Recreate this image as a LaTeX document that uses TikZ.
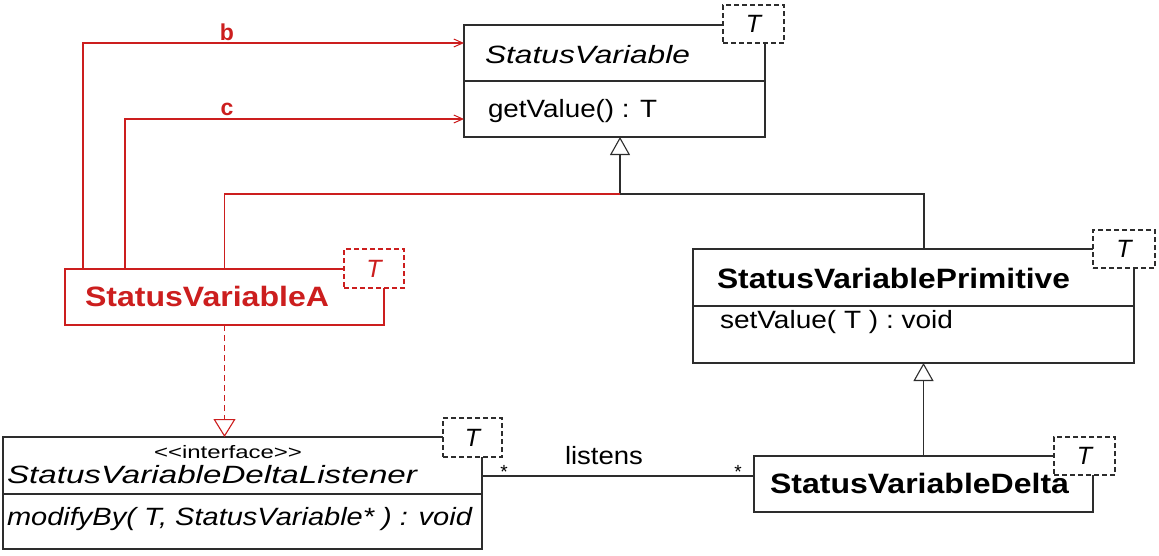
\documentclass[tikz,border=0pt]{standalone}
\usepackage{fontspec}
\setmainfont{Liberation Sans}
\usepackage{graphicx}
\usetikzlibrary{arrows.meta}
\definecolor{umlred}{RGB}{204,30,30}
\definecolor{umlgray}{RGB}{45,45,45}
\newcommand{\fitw}[2]{\resizebox{#1}{\height}{#2}}
\begin{document}
\begin{tikzpicture}[x=1pt,y=-1pt,
  classbox/.style={draw=umlgray, line width=1.3pt, fill=white, inner sep=0pt, outer sep=0pt, anchor=north west},
  redbox/.style={classbox, draw=umlred},
  tparam/.style={draw=umlgray, dash pattern=on 5pt off 3pt, line width=1.2pt, fill=white, inner sep=0pt, outer sep=0pt, anchor=north west},
  redtparam/.style={tparam, draw=umlred},
  lbl/.style={inner sep=0pt, outer sep=0pt, anchor=base west, text=black},
  regtext/.style={lbl, font=\fontsize{25}{30}\selectfont},
  ittext/.style={lbl, font=\fontsize{25}{30}\selectfont\itshape},
  bftext/.style={lbl, font=\fontsize{28}{33}\selectfont\bfseries},
  tlabel/.style={inner sep=0pt, font=\fontsize{25}{30}\selectfont\itshape, text=black},
  rolelbl/.style={lbl, anchor=base, text=umlred, font=\fontsize{23}{27}\selectfont\bfseries},
  line/.style={draw=umlgray, line width=1.3pt},
  redline/.style={draw=umlred, line width=1.3pt},
  gen/.style={line, -{Triangle[length=18pt,width=20pt,fill=white,line width=1.1pt]}},
  assoc/.style={redline, -{Straight Barb[length=9pt,width=8pt,line width=1pt]}},
  real/.style={redline, dash pattern=on 6pt off 4pt, -{Triangle[length=18pt,width=22pt,fill=white,line width=1.1pt,sep=0pt]}},
]
\useasboundingbox (0,0) rectangle (1159,555);

% ---------- class boxes ----------
\node[classbox, minimum width=301pt, minimum height=112pt] (sv) at (464,25) {};
\node[redbox, minimum width=319pt, minimum height=56pt] (sva) at (65,269) {};
\node[classbox, minimum width=441pt, minimum height=114pt] (svp) at (693,249) {};
\node[classbox, minimum width=339pt, minimum height=56pt] (svd) at (754,456) {};
\node[classbox, minimum width=479pt, minimum height=112pt] (svdl) at (3,437) {};

% dividers
\draw[line] ([yshift=-56pt]sv.north west) -- ([yshift=-56pt]sv.north east);
\draw[line] ([yshift=-57pt]svp.north west) -- ([yshift=-57pt]svp.north east);
\draw[line] ([yshift=-57pt]svdl.north west) -- ([yshift=-57pt]svdl.north east);

% ---------- texts ----------
\node[ittext] (svname) at (485,63) {\fitw{205pt}{StatusVariable}};
\node[regtext] (svop) at (488,117) {\fitw{169pt}{getValue() : T}};
\node[bftext, text=umlred] (svaname) at (85,306) {\fitw{244pt}{StatusVariableA}};
\node[bftext] (svpname) at (717,288) {\fitw{353pt}{StatusVariablePrimitive}};
\node[regtext] (svpop) at (720,328) {\fitw{233pt}{setValue( T ) : void}};
\node[bftext] (svdname) at (770,493) {\fitw{299pt}{StatusVariableDelta}};
\node[lbl, font=\fontsize{18}{22}\selectfont] (svdlst) at (154,458) {\fitw{148pt}{{<}{<}interface{>}{>}}};
\node[ittext] (svdlname) at (7,483) {\fitw{410pt}{StatusVariableDeltaListener}};
\node[ittext] (svdlop) at (7,525) {\fitw{465pt}{modifyBy( T, StatusVariable* ) : void}};

% ---------- connectors ----------
\coordinate (jn) at (620,194);
\draw[gen] ([xshift=10.5pt]svp.north) |- (jn) -- (jn |- sv.south);
\draw[redline] (sva.north) |- (jn);
\draw[gen] (svd.north) -- (svd.north |- svp.south);
\draw[assoc] ([xshift=18pt]sva.north west) |- ([yshift=-18pt]sv.north west);
\draw[assoc] ([xshift=60pt]sva.north west) |- ([yshift=-94pt]sv.north west);
\draw[real] (sva.south) -- (sva.south |- svdl.north);
\draw[line] ([yshift=-39pt]svdl.north east) -- ([yshift=-20pt]svd.north west);

\node[rolelbl] (lb) at (227,40) {b};
\node[rolelbl] (lc) at (227,115) {c};
\node[regtext] (listens) at (565,464) {\fitw{78pt}{listens}};
\node[lbl, anchor=base, font=\fontsize{19}{22}\selectfont] (m1) at (504,478) {*};
\node[lbl, anchor=base, font=\fontsize{19}{22}\selectfont] (m2) at (738,478) {*};

% ---------- template parameter boxes ----------
\node[tparam, minimum width=61pt, minimum height=38pt] (svT) at (723,5) {};
\node[tlabel] (svTt) at (svT.center) {T};
\node[redtparam, minimum width=60pt, minimum height=39pt] (svaT) at (344,249) {};
\node[tlabel, text=umlred] (svaTt) at (svaT.center) {T};
\node[tparam, minimum width=62pt, minimum height=38pt] (svpT) at (1093,230) {};
\node[tlabel] (svpTt) at (svpT.center) {T};
\node[tparam, minimum width=61pt, minimum height=38pt] (svdT) at (1054,437) {};
\node[tlabel] (svdTt) at (svdT.center) {T};
\node[tparam, minimum width=59pt, minimum height=39pt] (svdlT) at (443,418) {};
\node[tlabel] (svdlTt) at (svdlT.center) {T};
\end{tikzpicture}
\end{document}
